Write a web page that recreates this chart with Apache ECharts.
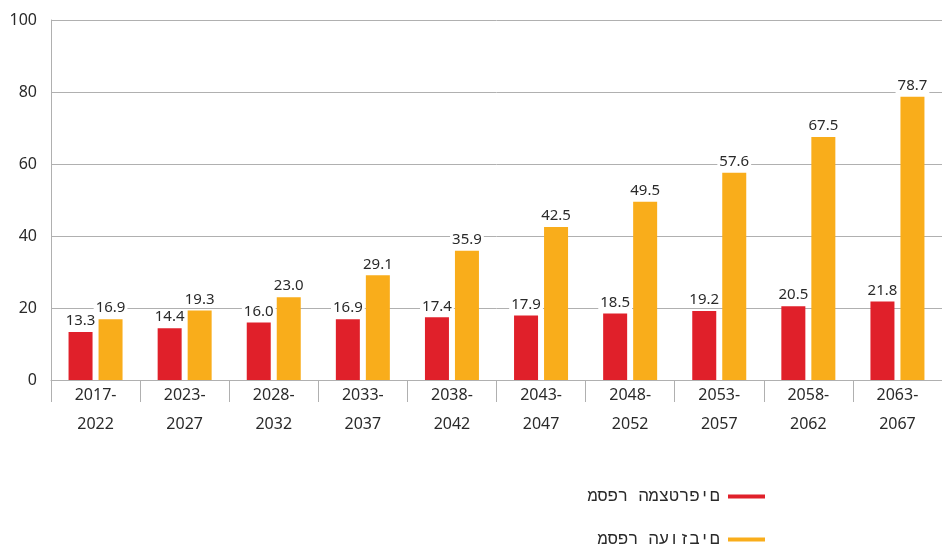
<!DOCTYPE html>
<html>
<head>
<meta charset="utf-8">
<script src="https://cdn.jsdelivr.net/npm/echarts@6/dist/echarts.min.js"></script>
<style>
  html, body { margin: 0; padding: 0; background: #fff; }
  #chart { width: 942px; height: 544px; }
</style>
</head>
<body>
<div id="chart"></div>
<script>
// periods on the x axis (two lines each)
const periods = ['2017-\n2022', '2023-\n2027', '2028-\n2032', '2033-\n2037', '2038-\n2042',
                 '2043-\n2047', '2048-\n2052', '2053-\n2057', '2058-\n2062', '2063-\n2067'];
// joiners / leavers
const joiners = [13.3, 14.4, 16.0, 16.9, 17.4, 17.9, 18.5, 19.2, 20.5, 21.8];
const leavers = [16.9, 19.3, 23.0, 29.1, 35.9, 42.5, 49.5, 57.6, 67.5, 78.7];
const seriesNames = ['מספר המצטרפים', 'מספר העוזבים'];

const textColor = '#2a2a2a';
const gridColor = '#b0b0b0';

let myChart = echarts.init(document.getElementById('chart'));

const barLabel = {
    show: true,
    position: 'top',
    distance: 3,
    color: textColor,
    fontFamily: 'Noto Sans',
    fontSize: 15,
    lineHeight: 16,
    backgroundColor: '#fff',
    padding: [0, 2],
    formatter: p => p.value.toFixed(1)
};

let option = {
    animation: false,
    grid: { left: 51, top: 20, width: 896, bottom: 164 },
    legend: {
        orient: 'vertical',
        right: 172,
        top: 483,
        height: 80,
        align: 'right',
        itemWidth: 37,
        itemHeight: 4,
        itemGap: 26,
        icon: 'rect',
        textStyle: { fontFamily: 'Liberation Mono', fontSize: 17, color: textColor, padding: [0, 3, 0, 0] },
        // the reference shows the Hebrew glyphs laid out left to right
        formatter: name => '\u202D' + name + '\u202C',
        data: seriesNames
    },
    xAxis: {
        type: 'category',
        data: periods,
        axisLine: { lineStyle: { color: gridColor, width: 1 } },
        axisTick: { show: true, length: 22, lineStyle: { color: gridColor } },
        axisLabel: {
            color: textColor,
            fontFamily: 'Noto Sans',
            fontSize: 16,
            lineHeight: 29,
            margin: 1
        }
    },
    yAxis: {
        type: 'value',
        min: 0,
        max: 100,
        interval: 20,
        axisLine: { show: true, lineStyle: { color: gridColor } },
        axisTick: { show: false },
        splitLine: { lineStyle: { color: gridColor } },
        axisLabel: { color: textColor, fontFamily: 'Noto Sans', fontSize: 16, margin: 14 }
    },
    series: [
        {
            name: seriesNames[0],
            type: 'bar',
            data: joiners,
            barWidth: 24,
            barGap: '25%',
            itemStyle: { color: '#e0202a' },
            label: barLabel
        },
        {
            name: seriesNames[1],
            type: 'bar',
            data: leavers,
            barWidth: 24,
            itemStyle: { color: '#f9ad1b' },
            label: barLabel
        }
    ]
};
myChart.setOption(option);
</script>
</body>
</html>
